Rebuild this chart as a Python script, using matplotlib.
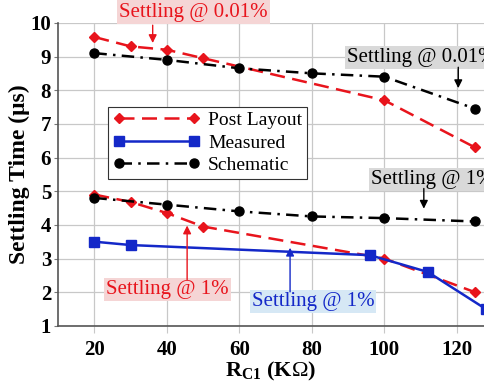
import matplotlib
matplotlib.use("Agg")
import matplotlib.pyplot as plt

plt.rcParams.update({"font.family": "Liberation Serif", "mathtext.fontset": "custom",
                     "mathtext.rm": "Liberation Serif", "mathtext.bf": "Liberation Serif:bold"})

RED, BLUE, BLACK = "#e8141c", "#1428c8", "#000000"

# data
post_x = [20, 30, 40, 50, 100, 125]
post_hi = [9.58, 9.3, 9.2, 8.95, 7.7, 6.3]
post_lo = [4.9, 4.68, 4.35, 3.95, 3.0, 2.0]
sch_x = [20, 40, 60, 80, 100, 125]
sch_hi = [9.1, 8.9, 8.65, 8.5, 8.4, 7.45]
sch_lo = [4.8, 4.6, 4.4, 4.25, 4.2, 4.1]
meas_x = [20, 30, 96, 112, 128]
meas_y = [3.5, 3.4, 3.1, 2.6, 1.5]
xticks = [20, 40, 60, 80, 100, 120]
yticks = [1, 2, 3, 4, 5, 6, 7, 8, 9, 10]

fig = plt.figure(figsize=(4.84, 3.87), dpi=100)
ax = fig.add_axes([0.12, 0.158, 0.88, 0.783])

dash_post = (0, (6, 3))
dash_sch = (0, (5, 2.5, 1, 2.5))
ax.plot(post_x, post_hi, color=RED, ls=dash_post, lw=1.8, marker="D", ms=5.5, label="Post Layout", zorder=3)
ax.plot(post_x, post_lo, color=RED, ls=dash_post, lw=1.8, marker="D", ms=5.5, zorder=3)
ax.plot(meas_x, meas_y, color=BLUE, ls="-", lw=1.8, marker="s", ms=6.5, label="Measured", zorder=3)
ax.plot(sch_x, sch_hi, color=BLACK, ls=dash_sch, lw=1.8, marker="o", ms=6.5, label="Schematic", zorder=3)
ax.plot(sch_x, sch_lo, color=BLACK, ls=dash_sch, lw=1.8, marker="o", ms=6.5, zorder=3)

ax.set_xlim(10, 127.5)
ax.set_ylim(1, 10)
ax.set_xticks(xticks)
ax.set_yticks(yticks)
ax.grid(True, color="#c8c8c8", lw=0.9)
ax.set_axisbelow(True)
for s in ["top", "right"]:
    ax.spines[s].set_visible(False)
for s in ["left", "bottom"]:
    ax.spines[s].set_color("#555555")
    ax.spines[s].set_linewidth(1.2)
ax.tick_params(axis="y", length=3, color="#777777", labelsize=15, pad=2)
ax.tick_params(axis="x", length=5, color="#c8c8c8", labelsize=15, pad=5)
for lab in ax.get_xticklabels() + ax.get_yticklabels():
    lab.set_fontweight("bold")
ax.set_xlabel(r"R$_{\mathbf{C1}}$ (K$\Omega$)", fontsize=16, fontweight="bold", labelpad=0)
ax.set_ylabel("Settling Time (\u03bcs)", fontsize=17, fontweight="bold", labelpad=0)

leg = ax.legend(loc="upper left", bbox_to_anchor=(0.223, 0.724), bbox_transform=fig.transFigure,
                fontsize=14, handlelength=4.5, numpoints=2, fancybox=False, framealpha=1,
                edgecolor="#333333", borderpad=0.25, labelspacing=0.25, handletextpad=0.4,
                borderaxespad=0)
leg.get_frame().set_linewidth(0.8)

def note(txt, pos, ha, start, tip, col, bg):
    ax.text(pos[0], pos[1], txt, fontsize=15, color=col, ha=ha, va="center", zorder=5,
            bbox=dict(boxstyle="square,pad=0.1", fc=bg, ec="none"), clip_on=False)
    ax.annotate("", xy=tip, xytext=start, annotation_clip=False, zorder=5,
                arrowprops=dict(arrowstyle="-|>", color=col, lw=1.0, mutation_scale=12,
                                shrinkA=0, shrinkB=0))

note("Settling @ 0.01%", (47.3, 10.32), "center", (36.1, 9.93), (36.1, 9.4), RED, "#f5d5d5")
note("Settling @ 0.01%", (89.7, 8.98), "left", (120.4, 8.68), (120.4, 8.06), BLACK, "#d9d9d9")
note("Settling @ 1%", (96.3, 5.35), "left", (110.9, 5.08), (110.9, 4.48), BLACK, "#d9d9d9")
note("Settling @ 1%", (40.1, 2.07), "center", (45.6, 2.37), (45.6, 3.98), RED, "#f5d5d5")
note("Settling @ 1%", (80.3, 1.72), "center", (74.0, 2.01), (74.0, 3.32), BLUE, "#d6e8f5")

fig.savefig("out.png", dpi=100)
